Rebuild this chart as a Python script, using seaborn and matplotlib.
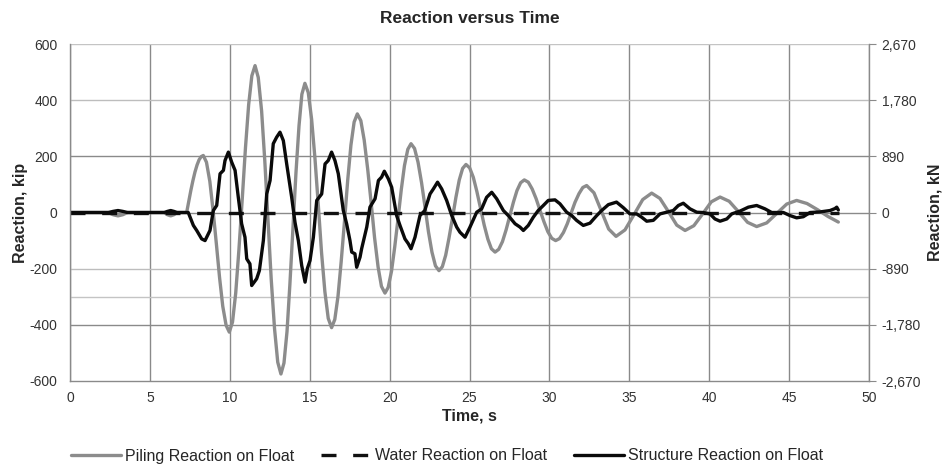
import matplotlib
matplotlib.use('Agg')
import matplotlib.pyplot as plt
import seaborn as sns

# time in s, reaction in kip
piling_t = [0, 2.4, 2.7, 3.0, 3.3, 3.6, 5.9, 6.1, 6.3, 6.5, 6.7, 7.3,
            7.43, 7.56, 7.69, 7.82, 7.95, 8.08, 8.21, 8.34,
            8.54, 8.75, 8.95, 9.16, 9.36, 9.56, 9.77, 9.97,
            10.17, 10.37, 10.57, 10.78, 10.98, 11.18, 11.38, 11.58,
            11.78, 11.99, 12.19, 12.39, 12.59, 12.80, 13.0, 13.2,
            13.39, 13.58, 13.76, 13.95, 14.14, 14.33, 14.51, 14.7,
            14.91, 15.12, 15.33, 15.54, 15.74, 15.95, 16.16, 16.37,
            16.57, 16.77, 16.97, 17.18, 17.38, 17.58, 17.78, 17.98,
            18.20, 18.41, 18.63, 18.85, 19.06, 19.28, 19.49, 19.71,
            19.91, 20.12, 20.32, 20.53, 20.73, 20.93, 21.14, 21.34,
            21.56, 21.78, 22.0, 22.22, 22.43, 22.65, 22.87, 23.09,
            23.30, 23.51, 23.72, 23.94, 24.15, 24.36, 24.57, 24.78,
            25.01, 25.24, 25.46, 25.69, 25.92, 26.15, 26.37, 26.6,
            26.83, 27.06, 27.29, 27.52, 27.75, 27.97, 28.2, 28.43,
            28.68, 28.92, 29.17, 29.41, 29.66, 29.9, 30.15, 30.39,
            30.63, 30.88, 31.12, 31.36, 31.6, 31.85, 32.09, 32.33,
            32.79, 33.25, 33.71, 34.17, 34.73, 35.29, 35.84, 36.4, 36.92, 37.45, 37.97, 38.49,
            39.04, 39.59, 40.13, 40.68, 41.25, 41.83, 42.4, 42.97, 43.6, 44.22, 44.85, 45.47,
            46.12, 46.78, 47.43, 48.08]
piling_v = [0, 0, -8, -12, -8, 0, 0, -8, -12, -8, 0, 0,
            40, 78, 113, 144, 169, 188, 199, 203,
            179, 111, 9, -112, -232, -334, -402, -426,
            -390, -287, -133, 49, 230, 384, 487, 523,
            481, 362, 184, -26, -236, -414, -533, -575,
            -536, -424, -256, -58, 141, 308, 421, 460,
            427, 332, 192, 25, -142, -282, -377, -410,
            -381, -299, -175, -30, 116, 240, 322, 351,
            327, 258, 154, 32, -90, -194, -263, -287,
            -267, -209, -123, -21, 81, 167, 225, 245,
            228, 179, 106, 19, -68, -141, -190, -207,
            -193, -152, -90, -18, 54, 116, 157, 171,
            159, 125, 75, 15, -45, -95, -129, -141,
            -131, -104, -62, -13, 37, 78, 106, 116,
            108, 84, 49, 8, -33, -68, -92, -100,
            -93, -71, -40, -2, 36, 67, 89, 96,
            70, 6, -59, -85, -62, -8, 46, 69, 50, 3, -45, -64,
            -47, -5, 38, 55, 40, 3, -35, -50, -37, -4, 30, 43,
            32, 10, -14, -34]

water_t = [0, 10, 20, 30, 40, 48.1]
water_v = [0, 0, 0, 0, 0, 0]

structure_t = [0, 2.4, 2.7, 3.0, 3.3, 3.6, 5.9, 6.1, 6.3, 6.5, 6.7, 7.4,
               7.72, 7.93, 8.24, 8.45, 8.76, 8.97, 9.18, 9.39, 9.6, 9.7, 9.91, 10.12,
               10.33, 10.53, 10.74, 10.95, 11.06, 11.26, 11.37, 11.68, 11.85, 12.1, 12.31, 12.52,
               12.72, 12.93, 13.14, 13.35, 13.56, 13.87, 14.08, 14.29, 14.5, 14.71, 14.85, 15.02,
               15.23, 15.44, 15.75, 15.96, 16.16, 16.37, 16.58, 16.79, 17.1, 17.31, 17.52, 17.63,
               17.83, 17.94, 18.15, 18.25, 18.57, 18.77, 19.09, 19.3, 19.5, 19.67, 19.92, 20.13,
               20.44, 20.65, 20.96, 21.17, 21.34, 21.59, 21.9, 22.2, 22.53, 22.74, 23.0, 23.26,
               23.57, 23.89, 24.2, 24.4, 24.72, 25.03, 25.45, 25.76, 26.07, 26.39, 26.7, 27.12,
               27.43, 27.85, 28.16, 28.37, 28.68, 28.99, 29.3, 29.62, 29.93, 30.35, 30.66, 31.08,
               31.4, 31.7, 32.12, 32.54, 32.96, 33.27, 33.69, 34.2, 34.63, 35.04, 35.46, 35.78,
               36.09, 36.5, 36.92, 37.34, 37.75, 38.07, 38.38, 38.8, 39.22, 39.6, 40.05, 40.36,
               40.68, 41.1, 41.41, 41.93, 42.45, 42.97, 43.49, 43.91, 44.64, 45.06, 45.47, 45.89,
               46.31, 46.93, 47.56, 47.87, 47.98, 48.08]
structure_v = [0, 0, 4, 7, 4, 0, 0, 4, 7, 4, 0, 0,
               -46, -64, -94, -100, -64, 7, 25, 138, 150, 185, 215, 179,
               150, 55, -40, -88, -165, -183, -260, -236, -207, -100, 66, 114,
               245, 268, 286, 256, 173, 55, -35, -100, -189, -248, -200, -171,
               -88, 43, 66, 173, 185, 215, 185, 138, 8, -40, -100, -141,
               -147, -195, -159, -129, -52, 19, 49, 114, 126, 147, 120, 90,
               -11, -46, -94, -111, -129, -88, -11, 7, 66, 84, 108, 84,
               43, -11, -52, -70, -88, -52, 1, 13, 54, 72, 49, 7,
               -11, -40, -52, -64, -46, -17, 7, 25, 43, 45, 31, 1,
               -11, -28, -46, -38, -11, 7, 28, 37, 17, -5, -5, -17,
               -31, -28, -5, 1, 7, 25, 33, 13, 1, 0, -5, -23,
               -31, -23, -5, 5, 19, 25, 13, 0, 0, -11, -19, -15,
               0, 2, 7, 14, 19, 9]

series_names = ['Piling Reaction on Float', 'Water Reaction on Float', 'Structure Reaction on Float']
x_ticks = [0, 5, 10, 15, 20, 25, 30, 35, 40, 45, 50]
kip_ticks = [-600, -400, -200, 0, 200, 400, 600]
kn_ticks = [-2670, -1780, -890, 0, 890, 1780, 2670]

sns.set_style('white')
plt.rcParams['font.family'] = ['Liberation Sans', 'DejaVu Sans']
plt.rcParams['axes.unicode_minus'] = False

fig = plt.figure(figsize=(9.43, 4.67), dpi=100)
ax = fig.add_axes([70 / 943, 1 - 381 / 467, 799 / 943, 337 / 467])

# grid lines (Excel style, some a bit lighter than others)
for x in x_ticks:
    ax.axvline(x, color='#8a8a8a', lw=1, zorder=0.5)
hgrid = {600: '#c4c4c4', 400: '#bdbdbd', 200: '#8a8a8a', 0: '#8a8a8a',
         -200: '#bdbdbd', -300: '#c4c4c4', -400: '#8a8a8a'}
for y, c in hgrid.items():
    ax.axhline(y, color=c, lw=1, zorder=0.5)

line_kw = dict(lw=2.4, estimator=None, sort=False, solid_joinstyle='round', solid_capstyle='round')
sns.lineplot(x=piling_t, y=piling_v, ax=ax, color='#8c8c8c',
             label=series_names[0], **line_kw)
sns.lineplot(x=water_t, y=water_v, ax=ax, color='#111111', lw=2.4,
             linestyle=(0, (4.5, 5)), label=series_names[1], estimator=None, sort=False)
sns.lineplot(x=structure_t, y=structure_v, ax=ax, color='#0a0a0a',
             label=series_names[2], **line_kw)

handles, labels = ax.get_legend_handles_labels()
ax.get_legend().remove()

ax.set_xlim(0, 50)
ax.set_ylim(-600, 600)
ax.set_xticks(x_ticks)
ax.set_yticks(kip_ticks)
ax.tick_params(axis='both', length=0, labelsize=10, labelcolor='#333333')
ax.tick_params(axis='y', pad=9)
ax.tick_params(axis='x', pad=7)
for s in ['left', 'bottom']:
    ax.spines[s].set_color('#8a8a8a')
    ax.spines[s].set_linewidth(1)
ax.spines['top'].set_visible(False)
ax.spines['right'].set_visible(False)

ax.set_xlabel('Time, s', fontsize=11.5, fontweight='bold', labelpad=3)
ax.set_ylabel('Reaction, kip', fontsize=11.5, fontweight='bold', labelpad=1)
ax.set_title('Reaction versus Time', fontsize=12.5, fontweight='bold', pad=15)

ax2 = ax.twinx()
ax2.set_ylim(-2670, 2670)
ax2.set_yticks(kn_ticks, [f'{v:,}' for v in kn_ticks])
ax2.tick_params(axis='y', length=5, direction='out', color='#8a8a8a',
                labelsize=10, labelcolor='#333333', pad=4)
for s in ['left', 'top', 'bottom']:
    ax2.spines[s].set_visible(False)
ax2.spines['right'].set_color('#8a8a8a')
ax2.spines['right'].set_linewidth(1)
ax2.set_ylabel('Reaction, kN', fontsize=11.5, fontweight='bold', labelpad=5)

fig.legend(handles, labels, loc='center', bbox_to_anchor=(447 / 943, 1 - 456 / 467),
           ncol=3, frameon=False, fontsize=11.5, handlelength=3.1,
           handletextpad=0.25, columnspacing=1.7)

fig.savefig('out.png', dpi=100)
